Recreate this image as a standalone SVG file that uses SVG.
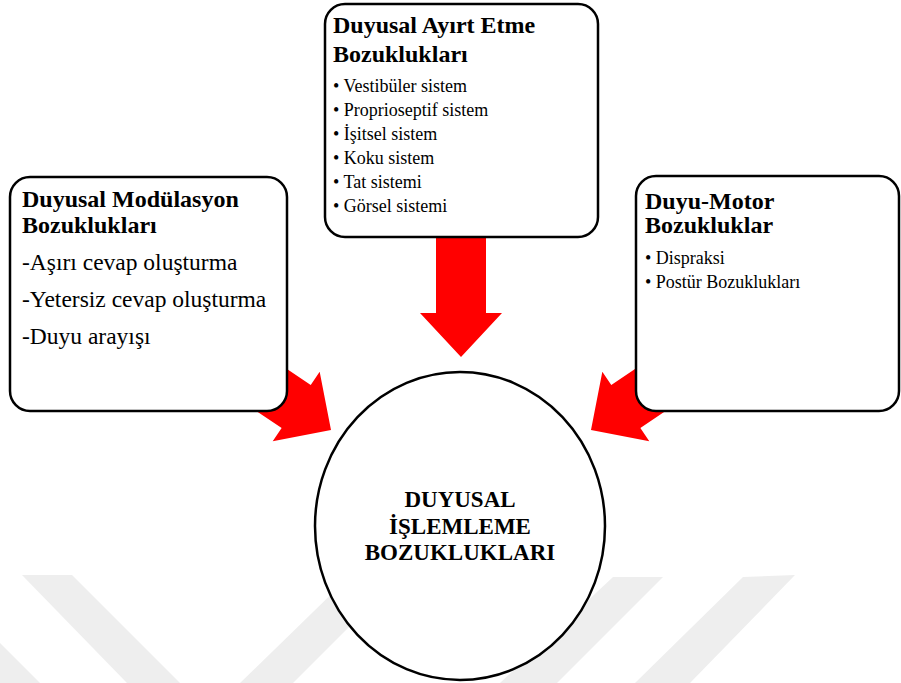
<svg xmlns="http://www.w3.org/2000/svg" width="901" height="683" viewBox="0 0 901 683">
<style>
.wm{fill:#eeeeee;stroke:none}
.box{fill:#ffffff;stroke:#000000;stroke-width:2.5}
.arrow{fill:#ff0000;stroke:none}
.ttl{font-family:"Liberation Serif","Times New Roman",serif;font-weight:bold;font-size:24px;fill:#000}
.itm{font-family:"Liberation Serif","Times New Roman",serif;font-size:23.5px;fill:#000}
.bul{font-family:"Liberation Serif","Times New Roman",serif;font-size:18px;fill:#000}
.ctr{font-family:"Liberation Serif","Times New Roman",serif;font-weight:bold;font-size:23px;fill:#000;text-anchor:middle}
</style>
<rect width="901" height="683" fill="#ffffff"/>
<g id="watermark">
<polygon class="wm" points="22,575 72,575 180,683 127,683"/>
<polygon class="wm" points="0,643 40,683 0,683"/>
<polygon class="wm" points="351,575 401,575 293,683 240,683"/>
<polygon class="wm" points="613,577 663,577 557,683 500,683"/>
<polygon class="wm" points="743,577 795,575 690,683 635,683"/>
</g>
<g id="connectors">
<polygon class="arrow" points="436,230 486,230 486,313 502,313 461,357 420,313 436,313"/>
<polygon class="arrow" transform="translate(331,430) rotate(34)" points="0,0 -42,-42 -42,-26 -160,-26 -160,26 -42,26 -42,42"/>
<polygon class="arrow" transform="translate(591,430) rotate(146)" points="0,0 -42,-42 -42,-26 -160,-26 -160,26 -42,26 -42,42"/>
</g>
<g id="node-top">
<rect class="box" x="325" y="4" width="273" height="233" rx="20" ry="20"/>
<text class="ttl" x="333" y="33">Duyusal Ayırt  Etme</text>
<text class="ttl" x="333" y="62">Bozuklukları</text>
<text class="bul" x="333" y="92">• Vestibüler sistem</text>
<text class="bul" x="333" y="116">• Proprioseptif sistem</text>
<text class="bul" x="333" y="140">• İşitsel sistem</text>
<text class="bul" x="333" y="164">• Koku sistem</text>
<text class="bul" x="333" y="188">• Tat sistemi</text>
<text class="bul" x="333" y="212">• Görsel sistemi</text>
</g>
<g id="node-left">
<rect class="box" x="10" y="177" width="277" height="234" rx="20" ry="20"/>
<text class="ttl" x="22" y="207">Duyusal Modülasyon</text>
<text class="ttl" x="22" y="233">Bozuklukları</text>
<text class="itm" x="22" y="270">-Aşırı cevap oluşturma</text>
<text class="itm" x="22" y="307">-Yetersiz cevap oluşturma</text>
<text class="itm" x="22" y="344">-Duyu arayışı</text>
</g>
<g id="node-right">
<rect class="box" x="636" y="176" width="263" height="235" rx="20" ry="20"/>
<text class="ttl" x="645" y="209">Duyu-Motor</text>
<text class="ttl" x="645" y="233">Bozukluklar</text>
<text class="bul" x="645" y="264">• Dispraksi</text>
<text class="bul" x="645" y="288">• Postür Bozuklukları</text>
</g>
<g id="node-center">
<ellipse class="box" cx="460" cy="526" rx="145" ry="154" stroke-width="2"/>
<text class="ctr" x="460" y="507">DUYUSAL</text>
<text class="ctr" x="460" y="534">İŞLEMLEME</text>
<text class="ctr" x="460" y="560">BOZUKLUKLARI</text>
</g>
</svg>
